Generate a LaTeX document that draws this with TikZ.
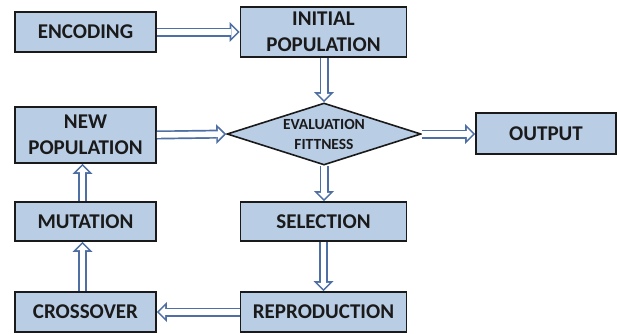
\documentclass[tikz,border=0pt]{standalone}
\usepackage{fontspec}
\setmainfont{Carlito}
\usetikzlibrary{shapes.geometric,arrows.meta}
\definecolor{boxfill}{HTML}{B9CDE5}
\definecolor{boxline}{HTML}{1A1A1A}
\definecolor{arrowblue}{HTML}{4E6FA3}
\tikzset{
  box/.style={draw=boxline, line width=1.6pt, fill=boxfill, rectangle, inner sep=0pt,
    align=center, font=\fontsize{21}{26}\selectfont\bfseries, text=boxline},
  arr/.style={draw=arrowblue, line width=9pt,
    -{Triangle[length=10pt,width=20pt,line width=0pt]},
    postaction={draw=white, line width=5.6pt,
      -{Triangle[length=5.9pt,width=11.8pt,line width=0pt]}, shorten >=2.4pt}}
}
\begin{document}
\begin{tikzpicture}[x=1pt,y=-1pt]
\useasboundingbox (0,0) rectangle (617,333);
\node[box, minimum width=141pt, minimum height=40pt] (enc) at (85.5,32) {ENCODING};
\node[box, minimum width=166pt, minimum height=50pt] (init) at (323.5,32) {INITIAL\\POPULATION};
\node[box, minimum width=141pt, minimum height=56pt] (newp) at (85.5,135) {NEW\\POPULATION};
\node[box, diamond, aspect=3.1, minimum width=194pt, minimum height=62pt,
  font=\fontsize{15.5}{20}\selectfont\bfseries] (eval) at (324,134) {EVALUATION\\FITTNESS};
\node[box, minimum width=140pt, minimum height=41pt] (out) at (546,133.5) {OUTPUT};
\node[box, minimum width=166pt, minimum height=39pt] (sel) at (323.5,221.5) {SELECTION};
\node[box, minimum width=141pt, minimum height=39pt] (mut) at (85.5,221.5) {MUTATION};
\node[box, minimum width=141pt, minimum height=40pt] (cross) at (85.5,312) {CROSSOVER};
\node[box, minimum width=166pt, minimum height=40pt] (rep) at (323.5,312) {REPRODUCTION};
\draw[arr] (enc.east) -- (init.west |- enc.east);
\draw[arr] ([xshift=0.5pt]init.south) -- (eval.north);
\draw[arr] (newp.east) -- (eval.west);
\draw[arr] (eval.east) -- (out.west |- eval.east);
\draw[arr] (eval.south) -- (sel.north -| eval.south);
\draw[arr] (sel.south) -- (rep.north);
\draw[arr] (rep.west) -- (cross.east);
\draw[arr] ([xshift=-3pt]cross.north) -- ([xshift=-3pt]mut.south);
\draw[arr] ([xshift=-3pt]mut.north) -- ([xshift=-3pt]newp.south);
\end{tikzpicture}
\end{document}
